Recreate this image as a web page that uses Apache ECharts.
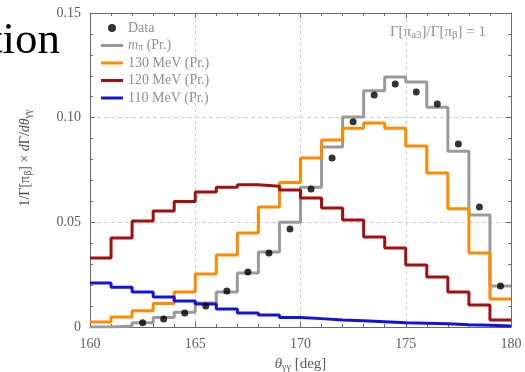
<!DOCTYPE html>
<html>
<head>
<meta charset="utf-8">
<script src="https://cdn.jsdelivr.net/npm/echarts@6/dist/echarts.min.js"></script>
<style>
  html, body { margin: 0; padding: 0; background: #fff; }
  #chart { width: 525px; height: 372px; }
</style>
</head>
<body>
<div id="chart"></div>
<script>
// Histogram bin edges in theta_gamma-gamma (degrees)
const binEdges = [160, 161, 162, 163, 164, 165, 166, 167, 168, 169, 170,
                  171, 172, 173, 174, 175, 176, 177, 178, 179, 180];

// Predicted normalised distributions, one value per 1-degree bin
const mPiPred  = [0.0, 0.0005, 0.002, 0.0045, 0.007, 0.0115, 0.0167, 0.0258, 0.0358, 0.050,
                  0.0667, 0.086, 0.1003, 0.1128, 0.1194, 0.117, 0.105, 0.084, 0.0535, 0.0196];
const mev130   = [0.0024, 0.0048, 0.0078, 0.0112, 0.0167, 0.0253, 0.0344, 0.0449, 0.0573, 0.069,
                  0.0807, 0.0893, 0.095, 0.0975, 0.095, 0.0865, 0.0736, 0.0565, 0.0354, 0.0134];
const mev120   = [0.033, 0.0425, 0.0506, 0.0554, 0.060, 0.0645, 0.0667, 0.068, 0.0672, 0.0655,
                  0.0616, 0.0569, 0.0511, 0.043, 0.0377, 0.0296, 0.0239, 0.0167, 0.0105, 0.0033];
const mev110   = [0.021, 0.019, 0.0167, 0.0143, 0.0124, 0.011, 0.0086, 0.0067, 0.0057, 0.0045,
                  0.004, 0.0033, 0.003, 0.0025, 0.002, 0.0018, 0.0015, 0.0011, 0.0008, 0.0005];

// Measured points at bin centres
const dataAngles = [162.5, 163.5, 164.5, 165.5, 166.5, 167.5, 168.5, 169.5, 170.5,
                    171.5, 172.5, 173.5, 174.5, 175.5, 176.5, 177.5, 178.5, 179.5];
const dataValues = [0.002, 0.0038, 0.0067, 0.010, 0.0172, 0.0263, 0.0354, 0.0468, 0.0659,
                    0.0807, 0.098, 0.1108, 0.1161, 0.1123, 0.1065, 0.0874, 0.0573, 0.0196];

const seriesNames = ['Data', 'mπ (Pr.)', '130 MeV (Pr.)', '120 MeV (Pr.)', '110 MeV (Pr.)'];
const seriesColors = ['#000000', '#9a9a9a', '#ff8a00', '#a30e0e', '#1212e0'];

const SERIF = "'Liberation Serif', 'DejaVu Serif', serif";
const TEXT_GRAY = '#8f8f8f';
const LABEL_GRAY = '#5e5e5e';
const FRAME = '#6a6a6a';

// Step outline: left edge of each bin carries its value, last edge closes the final bin
function stepPoints(values) {
  return binEdges.map((edge, i) => [edge, values[Math.min(i, values.length - 1)]]);
}

const subStyle = { fontSize: 10, lineHeight: 10, verticalAlign: 'bottom', fontFamily: SERIF };
const itStyle = { fontStyle: 'italic', fontFamily: SERIF };

const chart = echarts.init(document.getElementById('chart'), null, { renderer: 'canvas' });

const xCommon = {
  type: 'value', min: 160, max: 180, interval: 5,
  axisLine: { show: true, onZero: false, lineStyle: { color: FRAME, width: 1 } },
  axisTick: { show: true, inside: true, length: 5, lineStyle: { color: FRAME } },
  minorTick: { show: true, splitNumber: 5, length: 3, lineStyle: { color: FRAME } }
};
const yCommon = {
  type: 'value', min: 0, max: 0.15, interval: 0.05,
  axisLine: { show: true, onZero: false, lineStyle: { color: FRAME, width: 1 } },
  axisTick: { show: true, inside: true, length: 5, lineStyle: { color: FRAME } },
  minorTick: { show: true, splitNumber: 5, length: 3, lineStyle: { color: FRAME } }
};

const lineSeries = [mPiPred, mev130, mev120, mev110].map((vals, k) => ({
  name: seriesNames[k + 1],
  type: 'line',
  step: 'end',
  data: stepPoints(vals),
  symbol: 'none',
  color: seriesColors[k + 1],
  lineStyle: { width: 3, color: seriesColors[k + 1] },
  z: 2 + k,
  animation: false
}));

const linePath = 'path://M0,0H22V3H0Z';

const option = {
  backgroundColor: '#ffffff',
  animation: false,
  grid: { left: 90, right: 14, top: 13, bottom: 45, outerBoundsMode: 'none', containLabel: false },
  xAxis: [
    Object.assign({}, xCommon, {
      position: 'bottom',
      axisLabel: { show: true, margin: 10, fontFamily: SERIF, fontSize: 14, color: LABEL_GRAY },
      splitLine: { show: true, lineStyle: { color: '#cfcfcf', type: [3, 3], width: 1 } },
      name: '{th|θ}{sub|γγ} [deg]',
      nameLocation: 'middle',
      nameGap: 27,
      nameTextStyle: {
        fontFamily: SERIF, fontSize: 15, color: LABEL_GRAY, lineHeight: 16,
        rich: { th: Object.assign({ fontSize: 15, color: LABEL_GRAY }, itStyle),
                sub: Object.assign({ color: LABEL_GRAY }, subStyle) }
      }
    }),
    Object.assign({}, xCommon, {
      position: 'top',
      axisLabel: { show: false },
      splitLine: { show: false }
    })
  ],
  yAxis: [
    Object.assign({}, yCommon, {
      position: 'left',
      axisLabel: {
        show: true, margin: 9, fontFamily: SERIF, fontSize: 14, color: LABEL_GRAY,
        formatter: v => (v === 0 ? '0' : v.toFixed(2))
      },
      splitLine: { show: true, lineStyle: { color: '#cfcfcf', type: [4, 3], width: 1 } },
      name: '1/Γ[π{sub|β}] × {it|d}Γ/{it|dθ}{sub|γγ}',
      nameLocation: 'middle',
      nameRotate: 90,
      nameGap: 57,
      nameTextStyle: {
        fontFamily: SERIF, fontSize: 14, color: '#4f4f4f', lineHeight: 16,
        padding: [0, 0, 0, 24],
        rich: { it: Object.assign({ fontSize: 14, color: '#4f4f4f' }, itStyle),
                sub: Object.assign({ color: '#4f4f4f' }, subStyle) }
      }
    }),
    Object.assign({}, yCommon, {
      position: 'right',
      axisLabel: { show: false },
      splitLine: { show: false }
    })
  ],
  legend: {
    orient: 'vertical',
    left: 96,
    top: 16,
    itemWidth: 22,
    itemHeight: 8,
    itemGap: 3.5,
    selectedMode: false,
    textStyle: {
      fontFamily: SERIF, fontSize: 14, color: TEXT_GRAY, lineHeight: 14,
      rich: {
        it: Object.assign({ fontSize: 14, color: TEXT_GRAY }, itStyle),
        sub: Object.assign({ color: TEXT_GRAY }, subStyle)
      }
    },
    formatter: name => (name === 'mπ (Pr.)' ? '{it|m}{sub|π} (Pr.)' : name),
    data: [
      { name: seriesNames[0], icon: 'circle' },
      { name: seriesNames[1], icon: linePath },
      { name: seriesNames[2], icon: linePath },
      { name: seriesNames[3], icon: linePath },
      { name: seriesNames[4], icon: linePath }
    ]
  },
  graphic: [
    {
      type: 'text',
      x: 60, y: 41,
      style: {
        text: 'tion', fill: '#000000',
        fontFamily: SERIF, fontSize: 45,
        align: 'right', verticalAlign: 'middle'
      },
      z: 100
    },
    {
      type: 'text',
      x: 486, y: 32,
      style: {
        text: 'Γ[π{sub|a3}]/Γ[π{sub|β}] = 1',
        fill: TEXT_GRAY, fontFamily: SERIF, fontSize: 15, lineHeight: 17,
        align: 'right', verticalAlign: 'middle',
        rich: {
          sub: { fontSize: 11, lineHeight: 11, verticalAlign: 'bottom', fontFamily: SERIF, fill: TEXT_GRAY }
        }
      },
      z: 100
    }
  ],
  series: lineSeries.concat([{
    name: seriesNames[0],
    type: 'scatter',
    data: dataAngles.map((a, i) => [a, dataValues[i]]),
    symbol: 'circle',
    symbolSize: 7,
    color: seriesColors[0],
    itemStyle: { color: seriesColors[0] },
    z: 10,
    animation: false
  }])
};

chart.setOption(option);
</script>
</body>
</html>
